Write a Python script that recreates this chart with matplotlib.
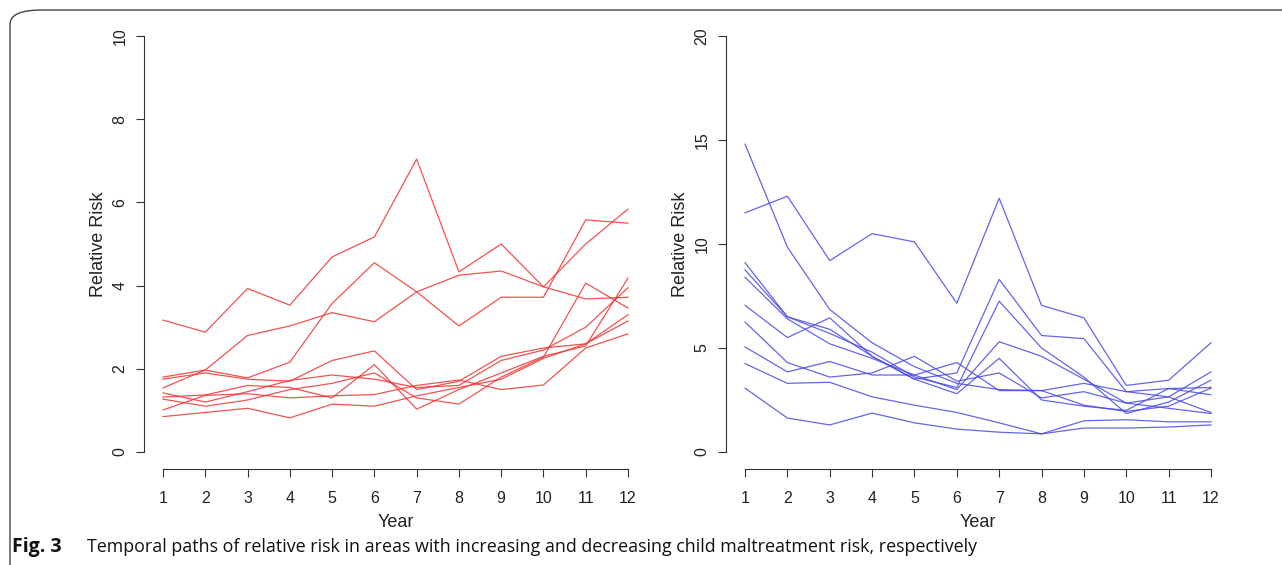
import numpy as np
import matplotlib
matplotlib.use('Agg')
from matplotlib import pyplot as plt
from matplotlib.patches import FancyBboxPatch

# years on the x axis
years = np.arange(1, 13)

# areas with increasing risk (left panel)
inc_1 = [3.17, 2.88, 3.93, 3.53, 4.69, 5.17, 7.04, 4.33, 5.0, 3.97, 5.0, 5.84]
inc_2 = [1.54, 1.97, 1.78, 2.16, 3.57, 4.55, 3.85, 3.03, 3.72, 3.72, 5.58, 5.5]
inc_3 = [1.8, 1.97, 2.8, 3.03, 3.35, 3.13, 3.85, 4.25, 4.35, 3.97, 3.68, 3.72]
inc_4 = [1.75, 1.9, 1.75, 1.7, 2.2, 2.43, 1.5, 1.7, 2.3, 2.5, 2.6, 3.15]
inc_5 = [1.42, 1.2, 1.45, 1.72, 1.85, 1.75, 1.55, 1.6, 2.2, 2.45, 3.0, 3.95]
inc_6 = [1.32, 1.37, 1.6, 1.55, 1.3, 2.1, 1.03, 1.5, 1.9, 2.3, 2.55, 4.18]
inc_7 = [1.27, 1.1, 1.25, 1.5, 1.65, 1.9, 1.3, 1.15, 1.8, 2.28, 4.06, 3.46]
inc_8 = [1.01, 1.36, 1.4, 1.3, 1.35, 1.38, 1.6, 1.73, 1.5, 1.61, 2.5, 2.84]
inc_9 = [0.85, 0.95, 1.05, 0.82, 1.15, 1.1, 1.35, 1.55, 1.75, 2.25, 2.6, 3.3]
increasing = [inc_1, inc_2, inc_3, inc_4, inc_5, inc_6, inc_7, inc_8, inc_9]

# areas with decreasing risk (right panel)
dec_1 = [14.8, 9.85, 6.85, 5.25, 4.1, 3.3, 3.0, 2.95, 3.3, 2.9, 3.05, 3.1]
dec_2 = [11.5, 12.3, 9.2, 10.5, 10.1, 7.15, 12.2, 7.05, 6.45, 3.2, 3.45, 5.25]
dec_3 = [9.1, 6.5, 5.9, 4.6, 3.5, 3.8, 8.3, 5.6, 5.45, 2.9, 2.65, 3.85]
dec_4 = [8.75, 6.5, 5.7, 4.8, 3.6, 3.1, 7.25, 5.0, 3.6, 1.85, 2.4, 3.45]
dec_5 = [8.4, 6.4, 5.2, 4.5, 3.7, 3.0, 5.3, 4.6, 3.5, 2.35, 2.1, 1.85]
dec_6 = [7.05, 5.5, 6.45, 4.6, 3.5, 2.8, 4.5, 2.5, 2.2, 2.0, 3.05, 2.75]
dec_7 = [6.25, 4.3, 3.6, 3.8, 4.6, 3.4, 3.8, 2.6, 2.9, 2.35, 2.65, 1.9]
dec_8 = [5.05, 3.85, 4.35, 3.7, 3.7, 4.3, 2.95, 2.95, 2.25, 1.95, 2.2, 3.07]
dec_9 = [4.25, 3.3, 3.35, 2.65, 2.25, 1.9, 1.4, 0.87, 1.5, 1.55, 1.45, 1.45]
dec_10 = [3.07, 1.63, 1.3, 1.87, 1.4, 1.1, 0.95, 0.87, 1.15, 1.15, 1.2, 1.3]
decreasing = [dec_1, dec_2, dec_3, dec_4, dec_5, dec_6, dec_7, dec_8, dec_9, dec_10]

left_yticks = [0, 2, 4, 6, 8, 10]
right_yticks = [0, 5, 10, 15, 20]

plt.rcParams['font.family'] = ['Liberation Sans', 'DejaVu Sans']
W, H = 1282, 565
fig = plt.figure(figsize=(W / 100, H / 100), dpi=100)

# rounded frame around the figure (only top-left corner visible)
frame = FancyBboxPatch((10 / W, -0.2), 1.2, (H - 10) / H + 0.2,
                       boxstyle='round,pad=0,rounding_size=0.025',
                       transform=fig.transFigure, fill=False,
                       edgecolor='#444444', linewidth=1.0)
fig.patches.append(frame)


def panel(left_px, width_px, data, color, yticks, ymax):
    ax = fig.add_axes([left_px / W, (H - 468.6) / H, width_px / W, 449.2 / H])
    for row in data:
        ax.plot(years, row, color=color, linewidth=0.9, alpha=0.85)
    pad = ymax * 0.04
    ax.set_xlim(1 - 0.44, 12 + 0.44)
    ax.set_ylim(-pad, ymax + pad)
    for s in ['top', 'right']:
        ax.spines[s].set_visible(False)
    ax.spines['left'].set_bounds(0, ymax)
    ax.spines['bottom'].set_bounds(1, 12)
    for s in ['left', 'bottom']:
        ax.spines[s].set_color('#333333')
        ax.spines[s].set_linewidth(0.8)
    ax.set_xticks(years)
    ax.set_yticks(yticks)
    ax.tick_params(axis='both', direction='out', length=6, width=0.8,
                   color='#333333', labelsize=11.5, labelcolor='#222222')
    ax.tick_params(axis='x', pad=10)
    ax.tick_params(axis='y', pad=6)
    for lab in ax.get_yticklabels():
        lab.set_rotation(90)
        lab.set_va('center')
    ax.set_xlabel('Year', fontsize=13, labelpad=6, color='#222222')
    ax.set_ylabel('Relative Risk', fontsize=13, labelpad=4, color='#222222')
    return ax


panel(144.4, 502.2, increasing, '#f03434', left_yticks, 10)
panel(726.4, 503.2, decreasing, '#4a4ae6', right_yticks, 20)

# caption
fig.text(12 / W, 1 - 547 / H, 'Fig. 3', fontsize=14, fontweight='bold',
         family=['Open Sans', 'DejaVu Sans'], va='center', ha='left', color='#111111')
fig.text(87 / W, 1 - 547 / H,
         'Temporal paths of relative risk in areas with increasing and decreasing child maltreatment risk, respectively',
         fontsize=12.9, family=['Open Sans', 'DejaVu Sans'], va='center', ha='left', color='#111111')

fig.savefig('out.png', dpi=100)
